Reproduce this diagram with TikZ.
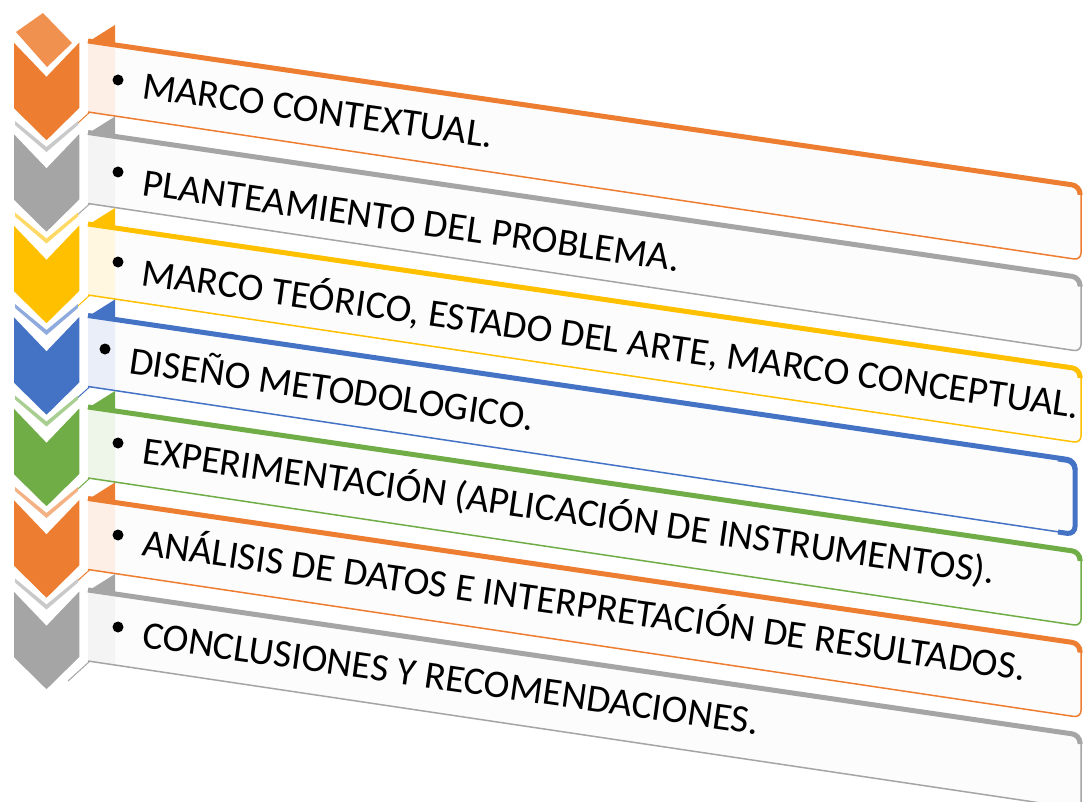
\documentclass[tikz,border=0pt]{standalone}
\usepackage{fontspec}
\setmainfont{Carlito}
\definecolor{cOr}{HTML}{ED7D31}
\definecolor{cGr}{HTML}{A5A5A5}
\definecolor{cYe}{HTML}{FFC000}
\definecolor{cBl}{HTML}{4472C4}
\definecolor{cGn}{HTML}{70AD47}
\definecolor{boxfill}{HTML}{FCFCFC}
\begin{document}
\begin{tikzpicture}[x=1pt,y=-1pt,
  steptext/.style={anchor=base west, inner sep=0pt, rotate=-8.1,
    font=\fontsize{39}{40}\selectfont, text=black},
  chev/.style={draw=white, line width=1.5pt}]
\useasboundingbox (0,0) rectangle (1083,802);
\fill[white] (0,0) rectangle (1083,802);
% boxes
\foreach \i/\c/\rx in {0/cOr/1081,1/cGr/1081,2/cYe/1081,3/cBl/1076,4/cGn/1081,5/cOr/1081,6/cGr/1081}{
  \pgfmathsetmacro\TL{42+91.5*\i}
  \pgfmathsetmacro\TR{187+91.5*\i}
  \pgfmathsetmacro\BR{260+91.5*\i}
  \pgfmathsetmacro\BL{112+91.5*\i}
  \fill[boxfill] (88,\TL) -- (\rx,\TR) -- (\rx,\BR) -- (88,\BL) -- cycle;
  \fill[\c!12] (88,\TL) -- (115,\TL+4) -- (115,\BL+4) -- (88,\BL) -- cycle;
  \fill[\c] (88,\TL) -- (115,\TL-17) -- (115,\TL+4) -- cycle;
  \draw[\c, line width=1.5pt, rounded corners=7pt] (88,\TL) -- (\rx,\TR) -- (\rx,\BR) -- (88,\BL);
  \draw[\c, line width=5pt, rounded corners=8pt] (88,\TL-1) -- (\rx-1,\TR-1) -- (\rx-1,\TR+8);
  \draw[\c, line width=1pt] (90,\BL) -- (68,\BL+20);
}
% thick right side of the blue box
\draw[cBl, line width=5pt, rounded corners=8pt] (1058,459) -- (1075,461.5) -- (1075,534.5) -- (1058,532);
% chevrons
\fill[cOr!85] (16,32) -- (43,13) -- (72,43) -- (47,67) -- cycle;
\foreach \i/\c in {0/cOr,1/cGr,2/cYe,3/cBl,4/cGn,5/cOr,6/cGr}{
  \pgfmathsetmacro\T{40.5+91.5*\i}
  \ifnum\i>0
    \fill[\c!60] (15,\T-11) -- (46.5,\T+15) -- (78,\T-11) -- (78,\T-7) -- (46.5,\T+20) -- (15,\T-7) -- cycle;
  \fi
  \filldraw[chev, fill=\c] (13,\T) -- (46.5,\T+35) -- (80,\T) -- (80,\T+68) -- (46.5,\T+101) -- (13,\T+68) -- cycle;
}
% bullets and texts
\foreach \i/\bx/\by/\tx/\ty/\txt in {
  0/118/80/141/98/{MARCO CONTEXTUAL.},
  1/118/172/141/195/{PLANTEAMIENTO DEL PROBLEMA.},
  2/118/262/140/285/{MARCO TEÓRICO, ESTADO DEL ARTE, MARCO CONCEPTUAL.},
  3/105/349/128/373/{DISEÑO METODOLOGICO.},
  4/118/443/141/463/{EXPERIMENTACIÓN (APLICACIÓN DE INSTRUMENTOS).},
  5/118/535/141/555/{ANÁLISIS DE DATOS E INTERPRETACIÓN DE RESULTADOS.},
  6/118/627/141/647/{CONCLUSIONES Y RECOMENDACIONES.}}{
  \fill[black] (\bx,\by) circle (5.5);
  \node[steptext] (t\i) at (\tx,\ty) {\txt};
}
\end{tikzpicture}
\end{document}
